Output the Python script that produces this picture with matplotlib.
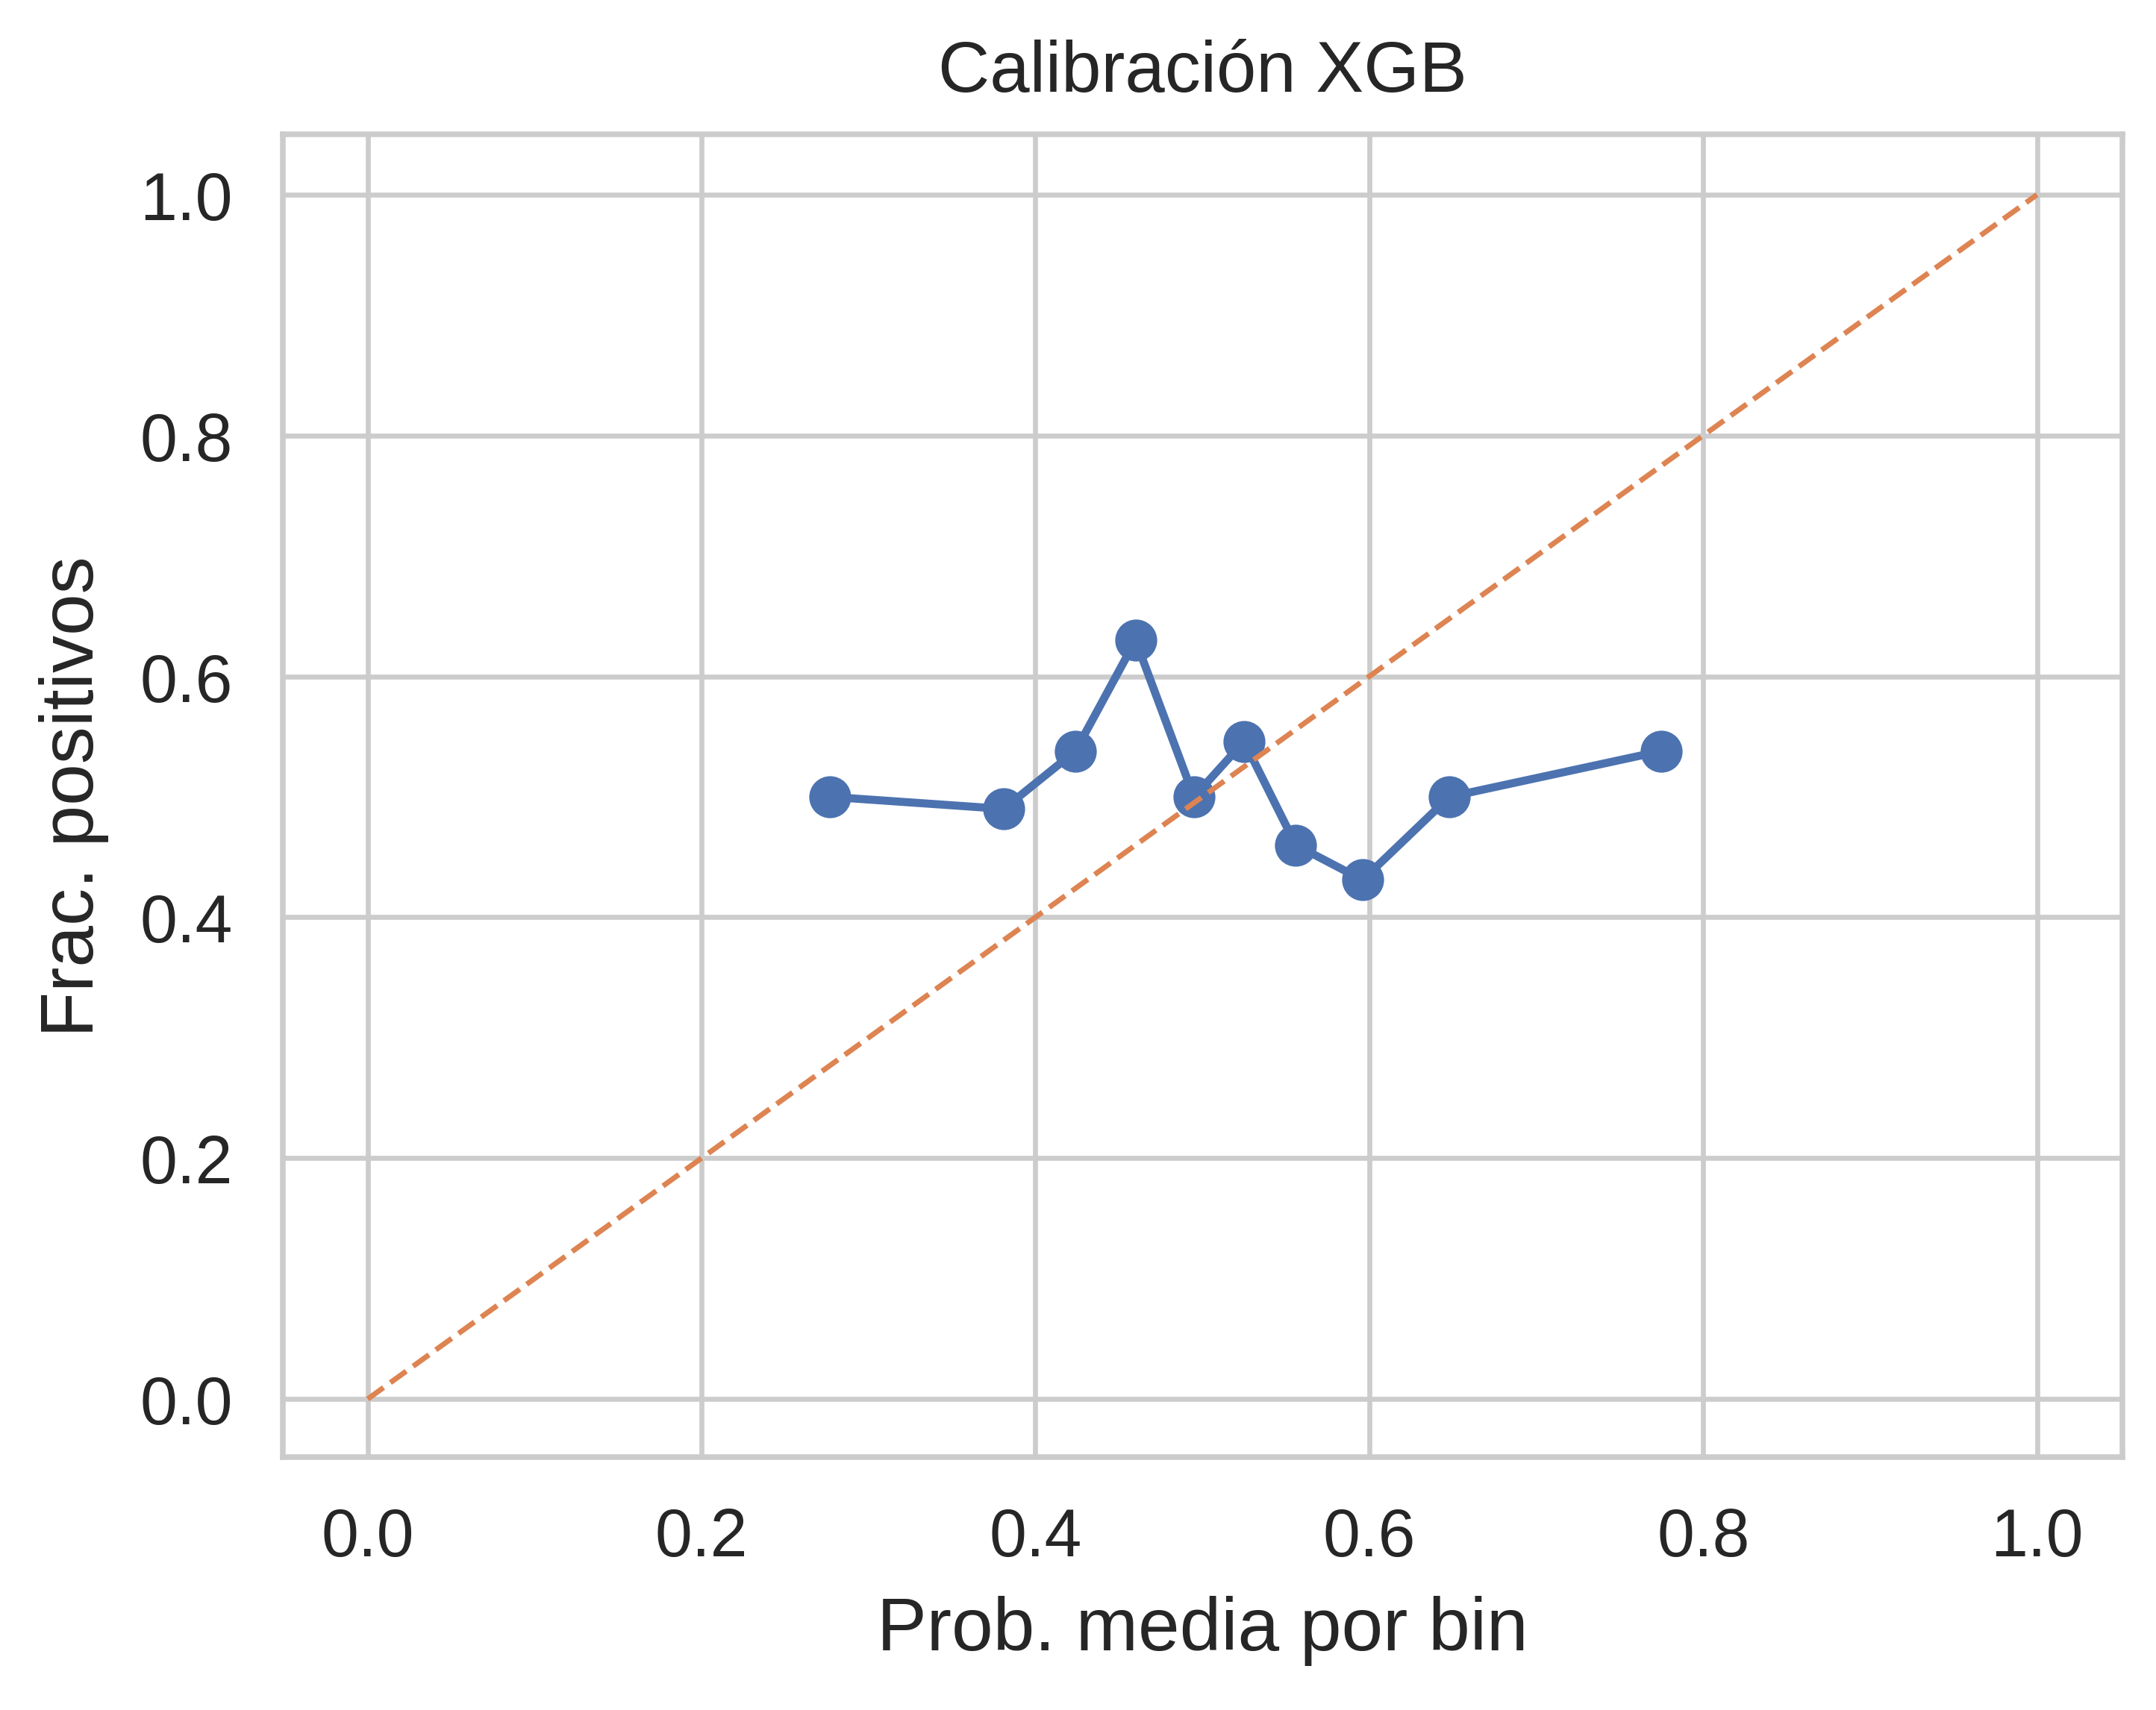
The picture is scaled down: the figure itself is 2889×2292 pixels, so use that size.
import matplotlib
matplotlib.use("Agg")
import matplotlib.pyplot as plt
import seaborn as sns

# calibration curve values
prob_media = [0.277, 0.381, 0.424, 0.460, 0.495, 0.525, 0.556, 0.596, 0.648, 0.775]
frac_pos = [0.500, 0.490, 0.538, 0.630, 0.500, 0.546, 0.460, 0.431, 0.500, 0.538]
diag = [0, 1]

sns.set_theme(style="whitegrid")
plt.rcParams['font.family'] = ['Liberation Sans', 'DejaVu Sans']

fig = plt.figure(figsize=(9.633, 7.643), dpi=300)
ax = fig.add_axes([0.131, 0.148, 0.853, 0.773])

ax.plot(prob_media, frac_pos, marker="o", color="#4c72b0", lw=2.6, ms=12.5)
ax.plot(diag, diag, "--", color="#dd8452", lw=1.7)

ax.set_xlim(-0.051, 1.051)
ax.set_ylim(-0.048, 1.050)
ax.set_xticks([0, 0.2, 0.4, 0.6, 0.8, 1.0])
ax.set_yticks([0, 0.2, 0.4, 0.6, 0.8, 1.0])
ax.tick_params(labelsize=21.5, colors="#262626", pad=10)
for s in ax.spines.values():
    s.set_color("#cccccc")
    s.set_linewidth(1.8)
ax.grid(color="#cccccc", lw=1.6)

ax.set_xlabel("Prob. media por bin", fontsize=24, color="#262626", labelpad=8)
ax.set_ylabel("Frac. positivos", fontsize=24, color="#262626", labelpad=10)
ax.set_title("Calibración XGB", fontsize=23, color="#262626", pad=14)

fig.savefig("out.png")
